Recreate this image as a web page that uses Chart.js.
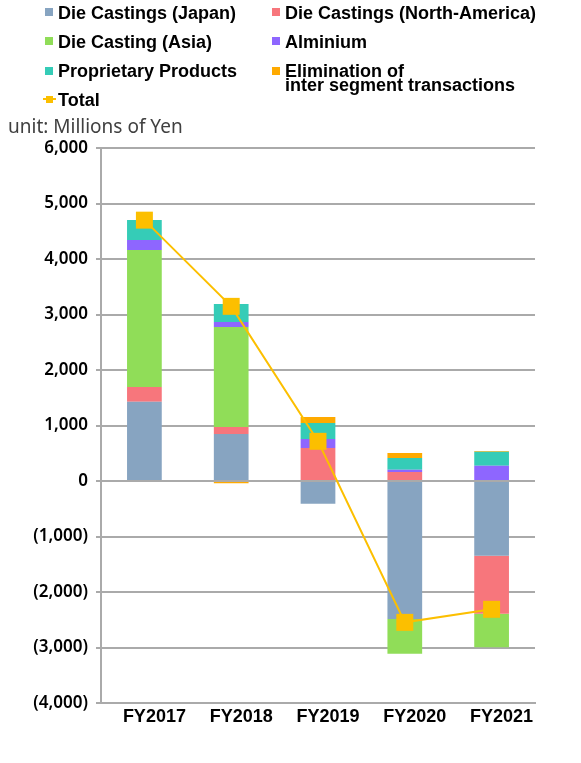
<!DOCTYPE html>
<html>
<head>
<meta charset="utf-8">
<script src="https://cdn.jsdelivr.net/npm/chart.js@4/dist/chart.umd.min.js"></script>
<style>
  html, body { margin: 0; padding: 0; background: #ffffff; }
  #wrap { position: relative; width: 581px; height: 763px; overflow: hidden; }
  #c { position: absolute; left: 0; top: 0; }
  .lg { position: absolute; font-family: "Liberation Sans", Arial, sans-serif; font-weight: bold; font-size: 18px; line-height: 14px; color: #000; white-space: nowrap; }
  .sq { position: absolute; width: 8px; height: 8px; }
  #unit { position: absolute; left: 8px; top: 116px; font-family: "Noto Sans", sans-serif; font-size: 19px; line-height: 20px; color: #404040; white-space: nowrap; }
</style>
</head>
<body>
<div id="wrap">
  <canvas id="c" width="581" height="763"></canvas>
  <div id="legend"></div>
  <div id="unit">unit: Millions of Yen</div>
</div>
<script>
const categories = ["FY2017", "FY2018", "FY2019", "FY2020", "FY2021"];
const dieJapan   = [1430, 847, -410, -2486, -1345];
const dieNA      = [265, 126, 595, 162, -1046];
const dieAsia    = [2468, 1802, 0, -625, -606];
const alminium   = [180, 90, 162, 42, 276];
const proprietary = [361, 324, 288, 210, 252];
const elimination = [0, -40, 108, 91, 12];
const total      = [4700, 3147, 715, -2547, -2312];
const yTicks = [-4000, -3000, -2000, -1000, 0, 1000, 2000, 3000, 4000, 5000, 6000];

const seriesNames = ["Die Castings (Japan)", "Die Castings (North-America)", "Die Casting (Asia)", "Alminium", "Proprietary Products", ["Elimination of", "inter segment transactions"], "Total"];
const colors = ["#87A4C1", "#F7767C", "#90DD58", "#8E66FF", "#35CCB7", "#FFAA00", "#FCBF00"];

// HTML legend
const legend = document.getElementById('legend');
const legendItems = [
  {i: 0, col: 0, row: 0}, {i: 1, col: 1, row: 0},
  {i: 2, col: 0, row: 1}, {i: 3, col: 1, row: 1},
  {i: 4, col: 0, row: 2}, {i: 5, col: 1, row: 2},
  {i: 6, col: 0, row: 3}
];
const rowBase = [19, 48.3, 77.5, 106.7];
const colSq = [45, 272];
const colTx = [58, 285];
legendItems.forEach(it => {
  const base = rowBase[it.row];
  if (it.i === 6) {
    const ln = document.createElement('div');
    ln.style.cssText = `position:absolute;left:43px;top:${base-8.4}px;width:13px;height:2px;background:${colors[6]}`;
    legend.appendChild(ln);
    const sq = document.createElement('div');
    sq.style.cssText = `position:absolute;left:46px;top:${base-10.9}px;width:7px;height:7px;background:${colors[6]}`;
    legend.appendChild(sq);
  } else {
    const sq = document.createElement('div');
    sq.className = 'sq';
    sq.style.left = colSq[it.col] + 'px';
    sq.style.top = (base - 11) + 'px';
    sq.style.background = colors[it.i];
    legend.appendChild(sq);
  }
  const tx = document.createElement('div');
  tx.className = 'lg';
  tx.style.left = colTx[it.col] + 'px';
  tx.style.top = (base - 13.24) + 'px';
  const name = seriesNames[it.i];
  if (Array.isArray(name)) {
    name.forEach((ln, k) => {
      const s = document.createElement('div');
      s.textContent = ln;
      tx.appendChild(s);
    });
  } else {
    tx.textContent = name;
  }
  legend.appendChild(tx);
});

const barData = [dieJapan, dieNA, dieAsia, alminium, proprietary, elimination];
const datasets = barData.map((d, k) => ({
  type: 'bar',
  label: Array.isArray(seriesNames[k]) ? seriesNames[k].join(' ') : seriesNames[k],
  data: d,
  backgroundColor: colors[k],
  borderWidth: 0,
  stack: 'seg',
  order: 1,
  barPercentage: 0.4,
  categoryPercentage: 1.0
}));
datasets.push({
  type: 'line',
  label: 'Total',
  data: total,
  borderColor: colors[6],
  backgroundColor: colors[6],
  borderWidth: 2,
  pointStyle: 'rect',
  pointRadius: 12,
  pointBorderWidth: 0,
  pointBackgroundColor: colors[6],
  stack: 'total',
  order: 0,
  tension: 0
});

function fmt(v) {
  const a = Math.abs(v).toLocaleString('en-US');
  return v < 0 ? '(' + a + ')' : a;
}

new Chart(document.getElementById('c'), {
  data: { labels: categories, datasets: datasets },
  options: {
    responsive: false,
    animation: false,
    devicePixelRatio: 1,
    layout: { padding: { left: 0, top: 148, right: 46, bottom: 0 } },
    plugins: { legend: { display: false }, tooltip: { enabled: false } },
    scales: {
      x: {
        stacked: true,
        offset: true,
        grid: { display: false, drawTicks: false },
        border: { display: true, color: '#AAAAAA', width: 2 },
        ticks: {
          color: '#000',
          padding: 3,
          labelOffset: 10,
          maxRotation: 0,
          font: { family: '"Liberation Sans", Arial, sans-serif', size: 18, weight: 'bold' }
        },
        afterFit: s => { s.height = 60; }
      },
      y: {
        stacked: true,
        min: yTicks[0],
        max: yTicks[yTicks.length - 1],
        afterBuildTicks: s => { s.ticks = yTicks.map(v => ({ value: v })); },
        grid: { color: '#AAAAAA', lineWidth: 2, tickLength: 5, drawTicks: true },
        border: { display: true, color: '#AAAAAA', width: 2 },
        ticks: {
          color: '#000',
          padding: 8,
          font: { family: '"Noto Sans", sans-serif', size: 17, weight: 600 },
          callback: v => fmt(v)
        },
        afterFit: s => { s.width = 101; }
      }
    }
  }
});
</script>
</body>
</html>
